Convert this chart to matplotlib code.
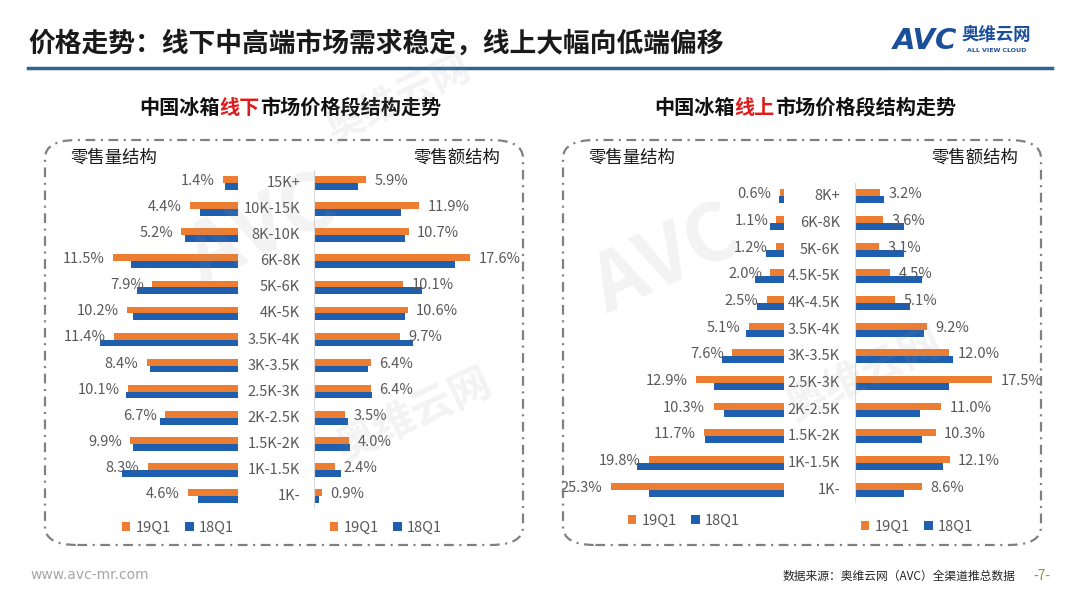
import matplotlib
matplotlib.use('Agg')
import matplotlib.pyplot as plt
from matplotlib.patches import FancyBboxPatch, Patch
from matplotlib.lines import Line2D

plt.rcParams['font.family'] = ['Noto Sans CJK SC', 'DejaVu Sans']
plt.rcParams['lines.scale_dashes'] = False

# 线下 (offline)
off_cats = ['15K+', '10K-15K', '8K-10K', '6K-8K', '5K-6K', '4K-5K', '3.5K-4K',
            '3K-3.5K', '2.5K-3K', '2K-2.5K', '1.5K-2K', '1K-1.5K', '1K-']
off_vol_19 = [1.4, 4.4, 5.2, 11.5, 7.9, 10.2, 11.4, 8.4, 10.1, 6.7, 9.9, 8.3, 4.6]
off_vol_18 = [1.2, 3.5, 4.9, 9.8, 9.3, 9.7, 12.7, 8.1, 10.3, 7.2, 9.7, 10.7, 3.7]
off_amt_19 = [5.9, 11.9, 10.7, 17.6, 10.1, 10.6, 9.7, 6.4, 6.4, 3.5, 4.0, 2.4, 0.9]
off_amt_18 = [5.0, 9.8, 10.3, 15.9, 12.2, 10.3, 11.2, 6.1, 6.6, 3.8, 4.1, 3.0, 0.6]

# 线上 (online)
on_cats = ['8K+', '6K-8K', '5K-6K', '4.5K-5K', '4K-4.5K', '3.5K-4K', '3K-3.5K',
           '2.5K-3K', '2K-2.5K', '1.5K-2K', '1K-1.5K', '1K-']
on_vol_19 = [0.6, 1.1, 1.2, 2.0, 2.5, 5.1, 7.6, 12.9, 10.3, 11.7, 19.8, 25.3]
on_vol_18 = [0.8, 2.1, 2.7, 4.2, 3.9, 5.6, 9.1, 10.2, 8.7, 11.5, 21.5, 19.8]
on_amt_19 = [3.2, 3.6, 3.1, 4.5, 5.1, 9.2, 12.0, 17.5, 11.0, 10.3, 12.1, 8.6]
on_amt_18 = [3.7, 6.3, 6.2, 8.5, 7.0, 8.8, 12.5, 12.0, 8.3, 8.6, 11.3, 6.2]

series = ['19Q1', '18Q1']

ORANGE = '#ED7D31'
BLUE = '#1F5FAF'
TXT = '#595959'

W, H = 1080, 608
fig = plt.figure(figsize=(W / 100, H / 100), dpi=100)
fig.patch.set_facecolor('white')


def fx(x):
    return x / W


def fy(y):
    return 1 - y / H


def add_ax(x0, x1, y0, y1):
    ax = fig.add_axes([fx(x0), fy(y1), fx(x1) - fx(x0), (y1 - y0) / H])
    ax.set_facecolor('none')
    for s in ax.spines.values():
        s.set_visible(False)
    ax.set_xticks([])
    ax.set_yticks([])
    return ax


def draw_half(ax, v19, v18, xmax, side):
    n = len(v19)
    pos = list(range(n))
    h = 0.26
    ax.barh([p - h / 2 for p in pos], v19, height=h, color=ORANGE)
    ax.barh([p + h / 2 for p in pos], v18, height=h, color=BLUE)
    ax.set_ylim(n - 0.5, -0.5)
    if side == 'left':
        ax.set_xlim(xmax, 0)
        off, ha = -6, 'right'
    else:
        ax.set_xlim(0, xmax)
        off, ha = 6, 'left'
        ax.axvline(0, color='#d9d9d9', lw=0.8)
    for p, v in zip(pos, v19):
        ax.annotate(f'{v:.1f}%', (v, p - h / 2), xytext=(off, -1),
                    textcoords='offset points', ha=ha, va='center',
                    fontsize=10.5, color=TXT)


def legend_at(x, y):
    hs = [Patch(facecolor=ORANGE), Patch(facecolor=BLUE)]
    fig.legend(hs, series, loc='center', bbox_to_anchor=(fx(x), fy(y)),
               ncol=2, frameon=False, fontsize=10.5, labelcolor=TXT,
               handlelength=0.6, handleheight=0.6, handletextpad=0.35,
               columnspacing=1.0)


def multi_text(x, y, parts, size, weight='bold'):
    # CJK glyphs are 1em wide, so place each colored piece by char count
    em = size * 100 / 72
    for s, c in parts:
        fig.text(fx(x), fy(y), s, fontsize=size, color=c, weight=weight,
                 ha='left', va='center')
        x += em * len(s)


# ---- header ----
fig.text(fx(28), fy(44), '价格走势：线下中高端市场需求稳定，线上大幅向低端偏移',
         fontsize=19.3, weight='bold', color='#1a1a1a', va='center', ha='left')
fig.add_artist(Line2D([fx(28), fx(1052)], [fy(68), fy(68)], color='#2E6496', lw=2.5))
fig.text(fx(893), fy(41), 'AVC', fontsize=21, weight='bold', style='italic',
         color='#1B4F9C', family='DejaVu Sans', va='center', ha='left')
fig.text(fx(962), fy(35), '奥维云网', fontsize=12.5, weight='bold', color='#1B4F9C',
         va='center', ha='left')
fig.text(fx(967), fy(50), 'ALL VIEW CLOUD', fontsize=4.5, weight='bold', color='#1B4F9C',
         family='DejaVu Sans', va='center', ha='left')

# ---- subtitles ----
multi_text(139, 107, [('中国冰箱', '#111111'), ('线下', '#E01B1B'),
                      ('市场价格段结构走势', '#111111')], 14.5)
multi_text(654, 107, [('中国冰箱', '#111111'), ('线上', '#E01B1B'),
                      ('市场价格段结构走势', '#111111')], 14.5)

# ---- dashed panels ----
for x0, x1 in [(45, 523), (563, 1041)]:
    box = FancyBboxPatch((fx(x0), fy(545)), fx(x1) - fx(x0), (545 - 140) / H,
                         boxstyle='round,pad=0,rounding_size=0.03',
                         transform=fig.transFigure, fill=False,
                         edgecolor='#808080', lw=1.6,
                         linestyle=(0, (7, 4, 1.5, 4)))
    fig.add_artist(box)

# ---- offline panel ----
top, bot = 170, 509
ax = add_ax(60, 238, top, bot)
draw_half(ax, off_vol_19, off_vol_18, 178 / 10.87, 'left')
ax = add_ax(314, 520, top, bot)
draw_half(ax, off_amt_19, off_amt_18, 206 / 8.86, 'right')
step = (bot - top) / len(off_cats)
for i, c in enumerate(off_cats):
    fig.text(fx(300), fy(top + step * (i + 0.5)), c, fontsize=10.5, color=TXT,
             ha='right', va='center')
fig.text(fx(70), fy(158), '零售量结构', fontsize=12.5, color='#1a1a1a', va='center')
fig.text(fx(500), fy(158), '零售额结构', fontsize=12.5, color='#1a1a1a', va='center', ha='right')
legend_at(178, 528)
legend_at(386, 528)

# ---- online panel ----
top, bot = 183, 503
ax = add_ax(590, 784, top, bot)
draw_half(ax, on_vol_19, on_vol_18, 194 / 6.84, 'left')
ax = add_ax(855, 1030, top, bot)
draw_half(ax, on_amt_19, on_amt_18, 175 / 7.83, 'right')
step = (bot - top) / len(on_cats)
for i, c in enumerate(on_cats):
    fig.text(fx(840), fy(top + step * (i + 0.5)), c, fontsize=10.5, color=TXT,
             ha='right', va='center')
fig.text(fx(588), fy(158), '零售量结构', fontsize=12.5, color='#1a1a1a', va='center')
fig.text(fx(1018), fy(158), '零售额结构', fontsize=12.5, color='#1a1a1a', va='center', ha='right')
legend_at(684, 521)
legend_at(917, 527)

# ---- faint watermarks ----
for x, y, s, fs in [(175, 300, 'AVC', 58), (320, 150, '奥维云网', 28),
                    (330, 470, '奥维云网', 30), (580, 330, 'AVC', 58),
                    (780, 430, '奥维云网', 30)]:
    fig.text(fx(x), fy(y), s, fontsize=fs, weight='bold', color='#999999',
             alpha=0.12, rotation=25, ha='left', va='bottom')

# ---- footer ----
fig.text(fx(30), fy(575), 'www.avc-mr.com', fontsize=10, color='#a6a6a6',
         va='center', ha='left', family='DejaVu Sans')
fig.text(fx(1015), fy(576), '数据来源：奥维云网（AVC）全渠道推总数据', fontsize=8.5,
         color='#262626', va='center', ha='right')
fig.text(fx(1033), fy(576), '-7-', fontsize=10, color='#7F9F3F', va='center', ha='left')

fig.savefig('out.png', dpi=100)
